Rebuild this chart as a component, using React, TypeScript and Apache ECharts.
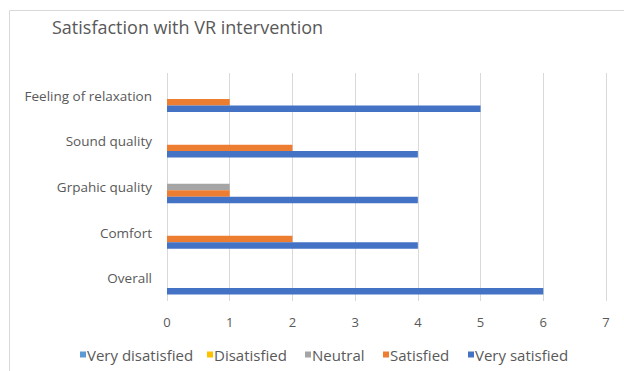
import React, { useEffect, useRef } from "react";
import * as echarts from "echarts";

const categories = ["Overall", "Comfort", "Grpahic quality", "Sound quality", "Feeling of relaxation"];
const seriesNames = ["Very disatisfied", "Disatisfied", "Neutral", "Satisfied", "Very satisfied"];
const veryDisatisfied = [0, 0, 0, 0, 0];
const disatisfied = [0, 0, 0, 0, 0];
const neutral = [0, 0, 1, 0, 0];
const satisfied = [0, 2, 1, 2, 1];
const verySatisfied = [6, 4, 4, 4, 5];
const xTicks = [0, 1, 2, 3, 4, 5, 6, 7];

const colors: Record<string, string> = {
  "Very disatisfied": "#5B9BD5",
  Disatisfied: "#FFC000",
  Neutral: "#A5A5A5",
  Satisfied: "#ED7D31",
  "Very satisfied": "#4472C4",
};

const legendLefts = [80, 207, 305, 383, 468];

const FONT = "'Open Sans', sans-serif";

export default function App() {
  const ref = useRef<HTMLDivElement>(null);
  useEffect(() => {
    document.body.style.margin = "0";
    const chart = echarts.init(ref.current!, undefined, { renderer: "svg" });
    const seriesData: [string, number[]][] = [
      ["Very disatisfied", veryDisatisfied],
      ["Disatisfied", disatisfied],
      ["Neutral", neutral],
      ["Satisfied", satisfied],
      ["Very satisfied", verySatisfied],
    ];
    chart.setOption({
      animation: false,
      backgroundColor: "#ffffff",
      title: {
        text: "Satisfaction with VR intervention",
        left: 47,
        top: 13,
        textStyle: { fontFamily: FONT, fontSize: 18, fontWeight: "normal", color: "#595959" },
      },
      graphic: [
        {
          type: "rect",
          shape: { x: 9.5, y: 10.5, width: 700, height: 500 },
          style: { fill: "none", stroke: "#d9d9d9", lineWidth: 1 },
          silent: true,
        },
      ],
      legend: seriesNames.map((name, i) => ({
        data: [name],
        left: legendLefts[i] - 5,
        top: 342,
        itemWidth: 6,
        itemHeight: 6,
        icon: "rect",
        textStyle: { fontFamily: FONT, fontSize: 15, color: "#595959", padding: [0, 0, 0, -4] },
      })),
      grid: { left: 167, right: 18, top: 73, bottom: 70, containLabel: false },
      xAxis: {
        type: "value",
        min: xTicks[0],
        max: xTicks[xTicks.length - 1],
        interval: 1,
        axisLine: { show: false },
        axisTick: { show: false },
        splitLine: { lineStyle: { color: "#d9d9d9", width: 1 } },
        axisLabel: { fontFamily: FONT, fontSize: 13, color: "#595959", margin: 14 },
      },
      yAxis: {
        type: "category",
        data: categories,
        axisLine: { show: false },
        axisTick: { show: false },
        axisLabel: { fontFamily: FONT, fontSize: 13.5, color: "#595959", margin: 15 },
      },
      series: seriesData.map(([name, data]) => ({
        name,
        type: "bar",
        data,
        barGap: "0%",
        barCategoryGap: "29%",
        itemStyle: { color: colors[name] },
      })),
    });
    return () => chart.dispose();
  }, []);
  return <div ref={ref} style={{ position: "fixed", left: 0, top: 0, width: 624, height: 371 }} />;
}
